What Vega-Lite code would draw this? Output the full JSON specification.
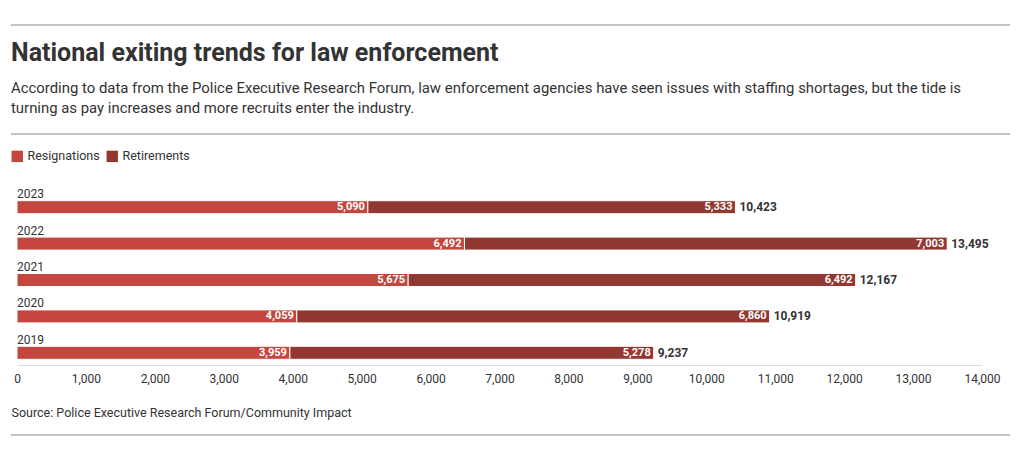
{
  "$schema": "https://vega.github.io/schema/vega-lite/v6.json",
  "width": 965,
  "height": 182,
  "autosize": "none",
  "padding": {"left": 17, "top": 183, "right": 38, "bottom": 96},
  "background": "white",
  "config": {
    "font": "Roboto",
    "view": {"stroke": null},
    "text": {"font": "Roboto"}
  },
  "title": {
    "text": "National exiting trends for law enforcement",
    "subtitle": [
      "According to data from the Police Executive Research Forum, law enforcement agencies have seen issues with staffing shortages, but the tide is",
      "turning as pay increases and more recruits enter the industry."
    ],
    "anchor": "start",
    "frame": "group",
    "dx": -6,
    "offset": -91.5,
    "fontSize": 25,
    "fontWeight": "bold",
    "color": "#333333",
    "subtitleFontSize": 14.9,
    "subtitleColor": "#333333",
    "subtitlePadding": 15,
    "subtitleLineHeight": 20
  },
  "datasets": {
    "exits": [
      {"year": "2023", "type": "Resignations", "value": 5090},
      {"year": "2023", "type": "Retirements", "value": 5333},
      {"year": "2022", "type": "Resignations", "value": 6492},
      {"year": "2022", "type": "Retirements", "value": 7003},
      {"year": "2021", "type": "Resignations", "value": 5675},
      {"year": "2021", "type": "Retirements", "value": 6492},
      {"year": "2020", "type": "Resignations", "value": 4059},
      {"year": "2020", "type": "Retirements", "value": 6860},
      {"year": "2019", "type": "Resignations", "value": 3959},
      {"year": "2019", "type": "Retirements", "value": 5278}
    ],
    "rules": [{"pos": "rule"}]
  },
  "data": {"name": "exits"},
  "encoding": {
    "y": {
      "field": "year",
      "type": "ordinal",
      "sort": "descending",
      "axis": null,
      "scale": {"paddingInner": 0, "paddingOuter": 0}
    }
  },
  "layer": [
    {
      "mark": {"type": "bar", "size": 13, "yOffset": 6, "stroke": "white", "strokeWidth": 1},
      "encoding": {
        "x": {
          "field": "value",
          "type": "quantitative",
          "stack": "zero",
          "scale": {"domain": [0, 14000]},
          "axis": {
            "values": [0, 1000, 2000, 3000, 4000, 5000, 6000, 7000, 8000, 9000, 10000, 11000, 12000, 13000, 14000],
            "format": ",.0f",
            "grid": false,
            "domainColor": "#dddddd",
            "ticks": false,
            "labelFlush": false,
            "labelBound": false,
            "labelOverlap": false,
            "labelFontSize": 12,
            "labelColor": "#333333",
            "labelPadding": 8,
            "title": "Source: Police Executive Research Forum/Community Impact",
            "titleAnchor": "start",
            "titleAlign": "left",
            "titleX": -6,
            "titleY": 41,
            "titleFontWeight": "normal",
            "titleFontSize": 12.5,
            "titleColor": "#333333"
          }
        },
        "color": {
          "field": "type",
          "type": "nominal",
          "scale": {"domain": ["Resignations", "Retirements"], "range": ["#c4463f", "#933830"]},
          "legend": {
            "title": null,
            "orient": "none",
            "legendX": -6,
            "legendY": -33,
            "direction": "horizontal",
            "symbolType": "square",
            "symbolSize": 130,
            "symbolStrokeWidth": 0,
            "labelFontSize": 12.5,
            "labelColor": "#333333",
            "columnPadding": 6,
            "symbolOffset": 0
          }
        }
      }
    },
    {
      "transform": [
        {"stack": "value", "groupby": ["year"], "sort": [{"field": "type"}], "as": ["v0", "v1"]}
      ],
      "mark": {"type": "text", "align": "right", "dx": -3, "yOffset": 6, "color": "white", "fontWeight": "bold", "fontSize": 11, "baseline": "middle"},
      "encoding": {
        "x": {"field": "v1", "type": "quantitative"},
        "text": {"field": "value", "type": "quantitative", "format": ","}
      }
    },
    {
      "transform": [
        {"aggregate": [{"op": "sum", "field": "value", "as": "total"}], "groupby": ["year"]}
      ],
      "mark": {"type": "text", "align": "left", "dx": 4, "yOffset": 6, "color": "#333333", "fontWeight": "bold", "fontSize": 12, "baseline": "middle"},
      "encoding": {
        "x": {"field": "total", "type": "quantitative"},
        "text": {"field": "total", "type": "quantitative", "format": ","}
      }
    },
    {
      "transform": [
        {"aggregate": [{"op": "count", "as": "n"}], "groupby": ["year"]}
      ],
      "mark": {"type": "text", "align": "left", "yOffset": -7, "color": "#333333", "fontSize": 12, "baseline": "middle"},
      "encoding": {
        "x": {"datum": 0},
        "text": {"field": "year"}
      }
    },
    {
      "data": {"name": "rules"},
      "mark": {"type": "rule", "color": "#888888", "strokeWidth": 1},
      "encoding": {"x": {"value": -6}, "x2": {"value": 993}, "y": {"value": -158}}
    },
    {
      "data": {"name": "rules"},
      "mark": {"type": "rule", "color": "#888888", "strokeWidth": 1},
      "encoding": {"x": {"value": -6}, "x2": {"value": 993}, "y": {"value": -49}}
    },
    {
      "data": {"name": "rules"},
      "mark": {"type": "rule", "color": "#888888", "strokeWidth": 1},
      "encoding": {"x": {"value": -6}, "x2": {"value": 993}, "y": {"value": 252}}
    }
  ]
}
